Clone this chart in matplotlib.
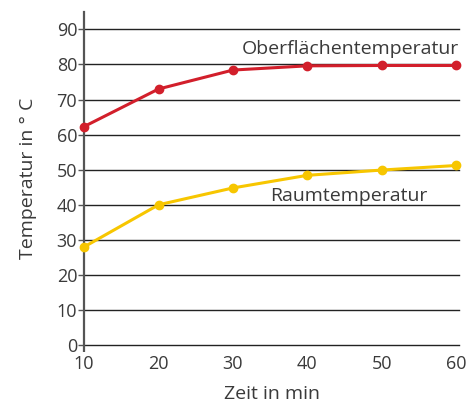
import matplotlib
matplotlib.use("Agg")
import matplotlib.pyplot as plt

# Daten
zeit = [10, 20, 30, 40, 50, 60]
oberflaeche = [62.3, 73.0, 78.4, 79.6, 79.7, 79.7]
raum = [28.0, 40.0, 44.8, 48.4, 49.9, 51.2]
y_ticks = [0, 10, 20, 30, 40, 50, 60, 70, 80, 90]

ROT = "#d21f2b"
GELB = "#f7c600"
TEXT = "#3a3a3a"

plt.rcParams["font.family"] = ["Open Sans", "DejaVu Sans"]

fig = plt.figure(figsize=(4.7, 4.07), dpi=100)
ax = fig.add_axes([0.179, 0.152, 0.798, 0.819])

ax.set_xlim(10, 60.4)
ax.set_ylim(0, 95)

for y in y_ticks:
    ax.axhline(y, color="#222222", linewidth=1.0, zorder=1, clip_on=False)

ax.plot(zeit, oberflaeche, color=ROT, linewidth=2.2, marker="o",
        markersize=6, zorder=3, clip_on=False)
ax.plot(zeit, raum, color=GELB, linewidth=2.2, marker="o",
        markersize=6, zorder=3, clip_on=False)

ax.text(60.4, 84.4, "Oberflächentemperatur", ha="right", va="center",
        fontsize=14, color=TEXT)
ax.text(45.6, 42.6, "Raumtemperatur", ha="center", va="center",
        fontsize=14, color=TEXT)

for side in ("top", "right", "bottom"):
    ax.spines[side].set_visible(False)
ax.spines["left"].set_color("#555555")
ax.spines["left"].set_linewidth(1.6)

ax.set_yticks(y_ticks)
ax.set_xticks(zeit)
ax.tick_params(axis="y", length=4, width=1, color="#555555",
               labelsize=13, labelcolor=TEXT, pad=1)
ax.tick_params(axis="x", length=5, width=1.6, color="#555555",
               labelsize=13, labelcolor=TEXT, pad=2)
# nur am Nullpunkt ein Strich nach unten
for tick in ax.xaxis.get_major_ticks()[1:]:
    tick.tick1line.set_visible(False)

ax.set_ylabel("Temperatur in ° C", fontsize=14, color=TEXT, labelpad=14)
ax.set_xlabel("Zeit in min", fontsize=14, color=TEXT, labelpad=9)

fig.savefig("out.png", dpi=100)
